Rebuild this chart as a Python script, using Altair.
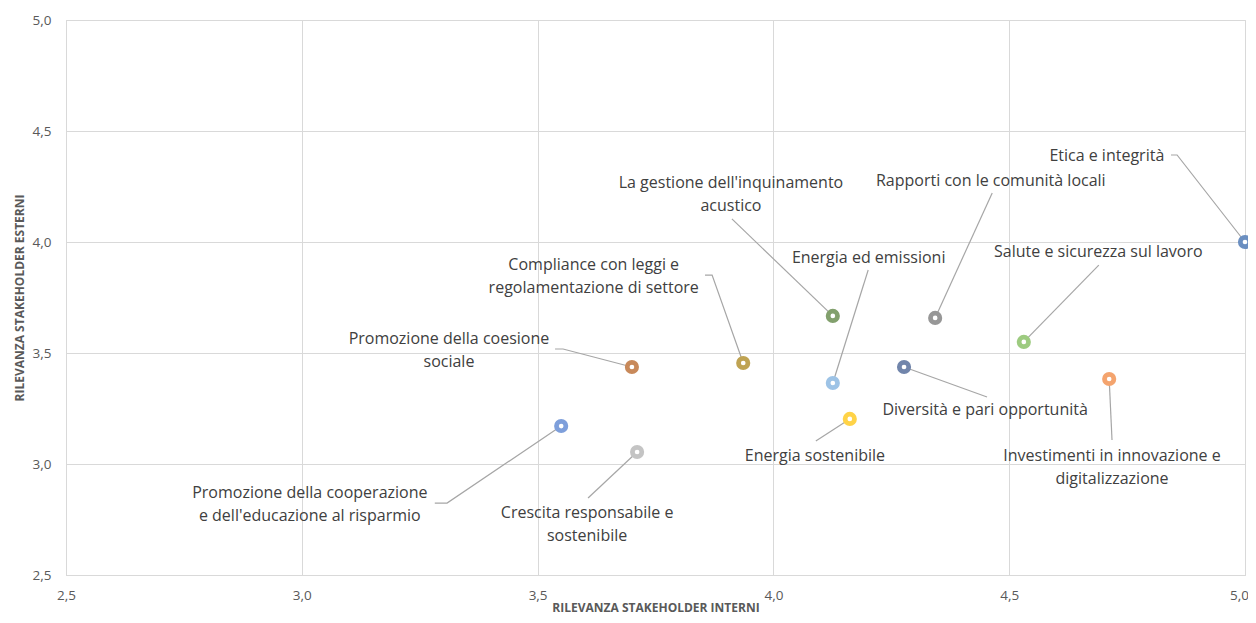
import altair as alt
import pandas as pd

FONT = "Open Sans"

topics = [
    "Etica e integrità",
    "Rapporti con le comunità locali",
    "Salute e sicurezza sul lavoro",
    "La gestione dell'inquinamento acustico",
    "Energia ed emissioni",
    "Compliance con leggi e regolamentazione di settore",
    "Promozione della coesione sociale",
    "Diversità e pari opportunità",
    "Energia sostenibile",
    "Investimenti in innovazione e digitalizzazione",
    "Promozione della cooperazione e dell'educazione al risparmio",
    "Crescita responsabile e sostenibile",
]
interni = [5.000, 4.343, 4.531, 4.126, 4.126, 3.936, 3.700, 4.277, 4.162, 4.712, 3.550, 3.711]
esterni = [4.000, 3.658, 3.550, 3.667, 3.365, 3.455, 3.437, 3.437, 3.203, 3.383, 3.171, 3.054]
colors = ["#6B8FC1", "#979797", "#9DCB80", "#82A06D", "#9DC3E6", "#BFA352",
          "#C8895A", "#7185AB", "#FFD347", "#F4A46E", "#7E9FDB", "#C4C4C4"]

label_lines = [
    ["Etica e integrità"],
    ["Rapporti con le comunità locali"],
    ["Salute e sicurezza sul lavoro"],
    ["La gestione dell'inquinamento", "acustico"],
    ["Energia ed emissioni"],
    ["Compliance con leggi e", "regolamentazione di settore"],
    ["Promozione della coesione", "sociale"],
    ["Diversità e pari opportunità"],
    ["Energia sostenibile"],
    ["Investimenti in innovazione e", "digitalizzazione"],
    ["Promozione della cooperazione", "e dell'educazione al risparmio"],
    ["Crescita responsabile e", "sostenibile"],
]
label_x = [4.707, 4.461, 4.689, 3.910, 4.202, 3.619, 3.312, 4.449, 4.088, 4.718, 3.017, 3.605]
label_y = [4.387, 4.275, 3.955, 4.266, 3.928, 3.896, 3.563, 3.243, 3.036, 3.036, 2.869, 2.779]
line_step = 0.104

leader_x = [[4.843, 4.856], [4.464], [4.690], [3.912], [4.201], [3.855, 3.870],
            [3.537, 3.554], [4.453], [4.090], [4.718], [3.282, 3.308], [3.607]]
leader_y = [[4.392, 4.392], [4.221], [3.896], [4.104], [3.874], [3.851, 3.851],
            [3.518, 3.518], [3.302], [3.104], [3.108], [2.824, 2.824], [2.847]]

pts = pd.DataFrame({"topic": topics, "x": interni, "y": esterni})

lead_rows = []
for i, t in enumerate(topics):
    k = 0
    for lx, ly in zip(leader_x[i], leader_y[i]):
        lead_rows.append({"topic": t, "o": k, "x": lx, "y": ly})
        k += 1
    lead_rows.append({"topic": t, "o": k, "x": interni[i], "y": esterni[i]})
leads = pd.DataFrame(lead_rows)

lab_rows = []
for i, lines in enumerate(label_lines):
    for k, txt in enumerate(lines):
        lab_rows.append({"text": txt, "x": label_x[i], "y": label_y[i] - k * line_step})
labs = pd.DataFrame(lab_rows)

ticks = [2.5, 3.0, 3.5, 4.0, 4.5, 5.0]
lblexpr = "replace(format(datum.value, '.1f'), '.', ',')"

xs = alt.Scale(domain=[2.5, 5.0], nice=False, zero=False)
ys = alt.Scale(domain=[2.5, 5.0], nice=False, zero=False)

xenc = alt.X("x:Q", scale=xs, axis=alt.Axis(
    values=ticks, labelExpr=lblexpr, title="RILEVANZA STAKEHOLDER INTERNI",
    grid=True, gridColor="#D9D9D9", domainColor="#D9D9D9", ticks=False,
    labelPadding=13, labelFontSize=13.5, labelColor="#595959", labelFont=FONT,
    labelOffset=alt.ExprRef(expr="datum.value >= 5 ? -6 : 0"),
    titleFont=FONT, titleFontSize=12, titleFontWeight="bold", titleColor="#595959",
    titleY=36, titleBaseline="alphabetic", labelFlush=False))
yenc = alt.Y("y:Q", scale=ys, axis=alt.Axis(
    values=ticks, labelExpr=lblexpr, title="RILEVANZA STAKEHOLDER ESTERNI",
    grid=True, gridColor="#D9D9D9", domainColor="#D9D9D9", ticks=False,
    labelPadding=15, labelFontSize=13.5, labelColor="#595959", labelFont=FONT,
    titleFont=FONT, titleFontSize=12, titleFontWeight="bold", titleColor="#595959",
    titlePadding=6, labelFlush=False))

lines = alt.Chart(leads).mark_line(color="#A6A6A6", strokeWidth=1.2).encode(
    x=xenc, y=yenc, detail="topic:N", order="o:Q")

dots = alt.Chart(pts).mark_point(filled=True, size=200, opacity=1).encode(
    x="x:Q", y="y:Q",
    color=alt.Color("topic:N", scale=alt.Scale(domain=topics, range=colors), legend=None))

centers = alt.Chart(pts).mark_point(filled=True, size=22, color="white", opacity=1).encode(
    x="x:Q", y="y:Q")

texts = alt.Chart(labs).mark_text(font=FONT, fontSize=16, color="#404040",
                                  align="center", baseline="middle").encode(
    x="x:Q", y="y:Q", text="text:N")

chart = alt.layer(lines, dots, centers, texts).properties(
    width=1179, height=555,
    autosize=alt.AutoSizeParams(type="none"),
    padding={"left": 58, "top": 12, "right": 3, "bottom": 40},
).configure_view(stroke="#D9D9D9")

chart.save("out.html", embed_options={"renderer": "svg", "actions": False})
